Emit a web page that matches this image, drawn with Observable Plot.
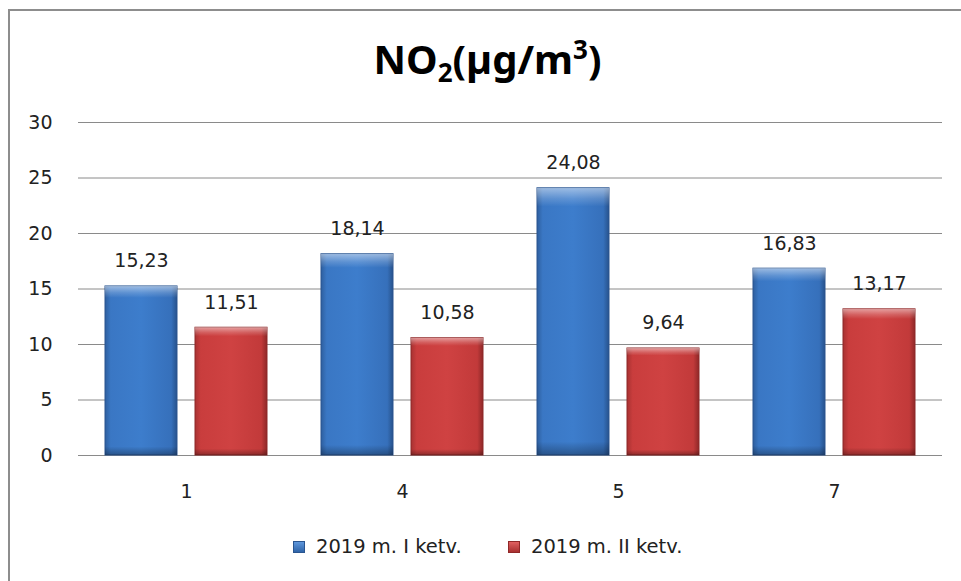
<!DOCTYPE html>
<html><head><meta charset="utf-8">
<script src="https://cdn.jsdelivr.net/npm/d3@7"></script>
<script src="https://cdn.jsdelivr.net/npm/@observablehq/plot@0.6"></script>
<style>
body{margin:0;background:#fff;width:961px;height:581px;overflow:hidden;position:relative;font-family:"DejaVu Sans",sans-serif;}
#frame{position:absolute;left:8px;top:9px;width:1000px;height:700px;border:2px solid #8d8d8d;box-sizing:border-box;}
#title{position:absolute;left:0;width:975px;top:34px;text-align:center;font-family:"Noto Sans",sans-serif;font-weight:bold;font-size:40px;color:#000;line-height:50px;}
#title sub{font-size:26px;vertical-align:-8px;line-height:0;}
#title sup{font-size:26px;vertical-align:15px;line-height:0;}
#chart{position:absolute;left:0;top:100px;}
.leg{position:absolute;top:535px;font-size:19.5px;color:#222;line-height:24px;white-space:nowrap;}
.sw{position:absolute;width:12px;height:12px;top:6px;box-sizing:border-box;}
</style></head>
<body>
<div id="frame"></div>
<div id="title">NO<sub>2</sub>(µg/m<sup>3</sup>)</div>
<div id="chart"></div>
<div class="leg" style="left:293px"><span class="sw" style="left:0;background:linear-gradient(#5e97dc,#2f64a8);border:1px solid #2a5590"></span><span style="margin-left:23px">2019 m. I ketv.</span></div>
<div class="leg" style="left:508px"><span class="sw" style="left:0;background:linear-gradient(#e06060,#a83030);border:1px solid #902828"></span><span style="margin-left:23px">2019 m. II ketv.</span></div>
<script>
const stations = ["1", "4", "5", "7"];
const seriesNames = ["2019 m. I ketv.", "2019 m. II ketv."];
const valuesI = [15.23, 18.14, 24.08, 16.83];
const valuesII = [11.51, 10.58, 9.64, 13.17];
const yTicks = [0, 5, 10, 15, 20, 25, 30];

const rows = [];
stations.forEach((s, i) => {
  rows.push({station: s, series: seriesNames[0], value: valuesI[i]});
  rows.push({station: s, series: seriesNames[1], value: valuesII[i]});
});
const fmt = v => d3.format(".2f")(v).replace(".", ",");

const defs = () => {
  const svg = d3.create("svg:defs");
  const mk = (id, stops, vertical) => {
    const g = svg.append("linearGradient").attr("id", id)
      .attr("x1", 0).attr("y1", 0).attr("x2", vertical ? 0 : 1).attr("y2", vertical ? 1 : 0);
    stops.forEach(([o, c, op]) => g.append("stop").attr("offset", o).attr("stop-color", c).attr("stop-opacity", op ?? 1));
  };
  mk("gBlue", [[0, "#2e5f9f"], [0.08, "#3a77c4"], [0.5, "#3d7dcc"], [0.92, "#3670bb"], [1, "#27528c"]]);
  mk("gRed", [[0, "#a83232"], [0.08, "#c93d3d"], [0.5, "#cf4242"], [0.92, "#c23a3a"], [1, "#8e2828"]]);
  mk("gBevel", [[0, "#ffffff", 0.5], [0.04, "#ffffff", 0.18], [0.07, "#ffffff", 0], [0.95, "#000000", 0], [1, "#000000", 0.3]], true);
  return svg.node();
};

const plot = Plot.plot({
  width: 961, height: 410,
  marginTop: 22, marginBottom: 55, marginLeft: 78, marginRight: 19,
  style: {fontFamily: "DejaVu Sans", fontSize: "19px", color: "#222", background: "transparent", overflow: "visible"},
  fx: {domain: stations, padding: 0, label: null, axis: "bottom", tickSize: 0, tickPadding: 29},
  x: {domain: seriesNames, axis: null, paddingInner: 0.2, paddingOuter: 0.3},
  y: {domain: [0, 30], ticks: yTicks, label: null, tickSize: 0, tickPadding: 26},
  marks: [
    defs,
    Plot.gridY(yTicks, {stroke: "#8a8a8a", strokeOpacity: 1, strokeWidth: 1}),
    Plot.barY(rows.filter(d => d.series === seriesNames[0]), {fx: "station", x: "series", y: "value", fill: "url(#gBlue)", stroke: "#2a5590", strokeWidth: 1, style: "filter: drop-shadow(2px 2px 2px rgba(0,0,0,0.35))"}),
    Plot.barY(rows.filter(d => d.series === seriesNames[1]), {fx: "station", x: "series", y: "value", fill: "url(#gRed)", stroke: "#8e2828", strokeWidth: 1, style: "filter: drop-shadow(2px 2px 2px rgba(0,0,0,0.35))"}),
    Plot.barY(rows, {fx: "station", x: "series", y: "value", fill: "url(#gBevel)"}),
    Plot.text(rows, {fx: "station", x: "series", y: "value", text: d => fmt(d.value), dy: -19, lineAnchor: "bottom", fontSize: 19, fill: "#222"})
  ]
});
document.getElementById("chart").appendChild(plot);
</script>
</body></html>
